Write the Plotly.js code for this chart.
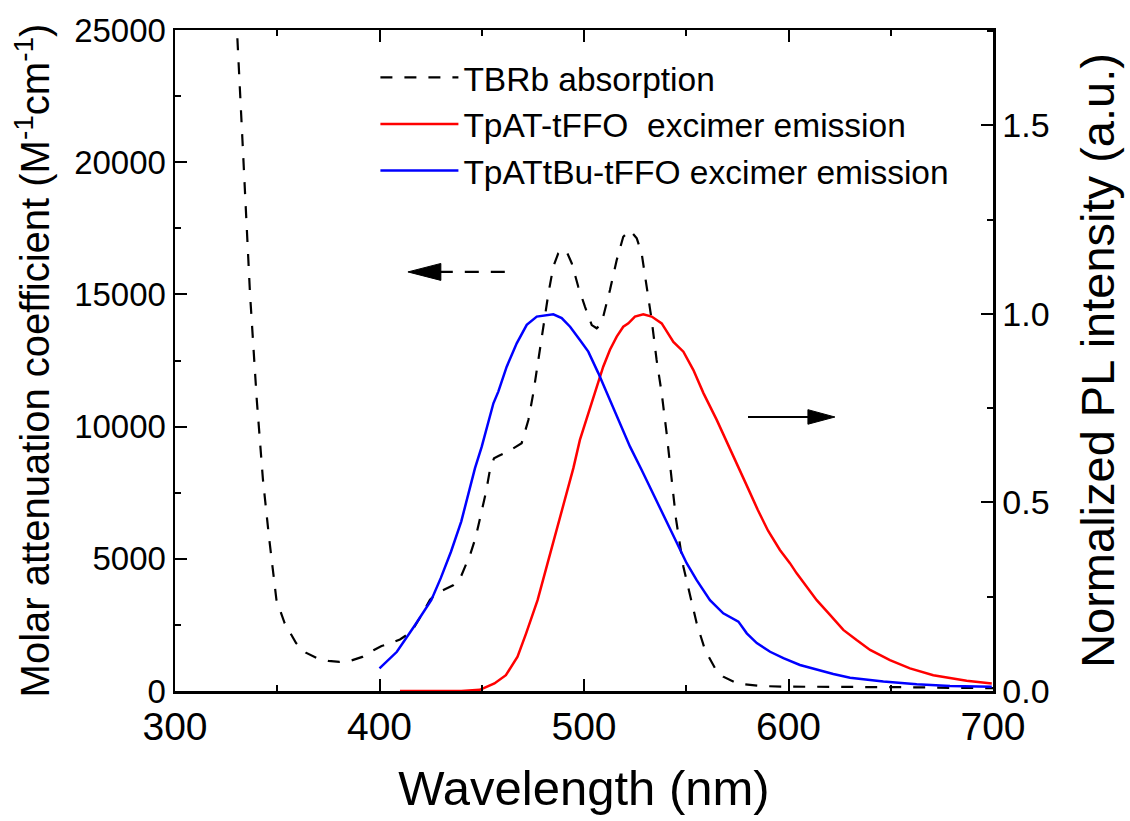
<!DOCTYPE html>
<html>
<head>
<meta charset="utf-8">
<script src="https://cdn.plot.ly/plotly-3.0.1.min.js"></script>
<style>html,body{margin:0;padding:0;background:#fff;}#chart{width:1130px;height:821px;}</style>
</head>
<body>
<div id="chart"></div>
<script>
// TBRb absorption (left axis, M^-1 cm^-1)
const absWl = [329.5,330.3,333,336.7,340,343,346,349.6,353.6,359.2,364,369.2,375,380.4,386,391.6,397.3,401,405.7,410,415.5,420,424.7,428,432,436,439.4,442,444.3,447,449.1,452,454,456,458.4,463.8,469.5,472.8,475.2,477.7,480.1,482.6,485,487.4,489.5,491.5,494,497.2,500.5,503.8,506.2,508,509.4,512.7,516,519.2,522.5,525.8,528.2,530.7,533.1,535.5,538,540.4,542.1,545,548.6,551.8,555.1,559.2,564.1,568.1,574.7,586.1,597.5,613.8,630.1,646.2,662.7,680,700];
const absVal = [26500,25000,20800,15000,11000,8000,5800,3450,2570,1815,1450,1250,1140,1100,1150,1290,1550,1700,1815,1950,2230,2800,3450,3700,3850,4000,4250,4700,5150,5800,6470,7500,8360,8800,8900,9100,9370,10250,11260,12520,13650,15040,16050,16550,16700,16620,16180,15290,14530,13840,13720,13850,14160,15170,16300,17180,17430,17120,16550,15290,14030,12520,11260,9750,8480,6500,4700,3700,2560,1550,860,540,290,190,165,160,160,140,140,120,110];

// TpAT-tFFO excimer emission (right axis, normalized)
const redWl = [410,420,430,440,449,456.2,461.8,467.5,471.7,474.5,477.3,482,487,491,494.8,498,502.1,506.2,509.4,512.7,516,519.2,521.7,524.9,529,533.1,538,543.7,548.6,553.5,558.4,564.9,570,575,580,585,590,595.8,600.7,604,608.9,613.8,620.3,626.8,633.3,639.9,649.6,659.4,670.8,687.1,699.4];
const redVal = [0,0,0,0,0.003,0.02,0.042,0.091,0.153,0.197,0.241,0.335,0.435,0.515,0.591,0.666,0.737,0.807,0.86,0.905,0.94,0.966,0.975,0.993,0.999,0.993,0.975,0.926,0.9,0.851,0.79,0.719,0.66,0.6,0.54,0.48,0.425,0.374,0.339,0.312,0.277,0.241,0.202,0.162,0.135,0.109,0.082,0.06,0.042,0.027,0.02];

// TpATtBu-tFFO excimer emission (right axis, normalized)
const blueWl = [400,408.5,416.9,425.3,430,435,440,443,446.7,450,453.2,455.7,458.1,462.2,467.1,472,476.9,481.8,485,489.1,493.2,498,502.1,507,511.9,516.8,522.5,528.2,533,538,542,546.9,550.2,555.1,561.6,568.1,572.2,575.5,579.6,584.5,591,597.5,605.6,613.8,621.9,630.1,646.4,662.7,679,699.4];
const blueVal = [0.06,0.104,0.171,0.241,0.3,0.37,0.45,0.51,0.591,0.648,0.71,0.763,0.794,0.86,0.922,0.971,0.993,0.997,0.999,0.989,0.966,0.931,0.9,0.843,0.781,0.719,0.648,0.586,0.532,0.475,0.43,0.374,0.339,0.294,0.241,0.206,0.193,0.184,0.153,0.127,0.104,0.087,0.069,0.056,0.045,0.035,0.025,0.018,0.013,0.011];

const names = ["TBRb absorption", "TpAT-tFFO\u00a0 excimer emission", "TpATtBu-tFFO excimer emission"];

const FONT = "Liberation Sans, Arial, sans-serif";

const traces = [
  {x: absWl, y: absVal, name: names[0], type: "scatter", mode: "lines", yaxis: "y",
   line: {color: "#000000", width: 2.2, dash: "12px,12px"}},
  {x: redWl, y: redVal, name: names[1], type: "scatter", mode: "lines", yaxis: "y2",
   line: {color: "#ff0000", width: 2.5}},
  {x: blueWl, y: blueVal, name: names[2], type: "scatter", mode: "lines", yaxis: "y2",
   line: {color: "#0000ff", width: 2.5}}
];

const layout = {
  width: 1130, height: 821,
  margin: {l: 175, r: 137, t: 30, b: 130},
  paper_bgcolor: "#ffffff", plot_bgcolor: "#ffffff",
  font: {family: FONT, color: "#000000"},
  showlegend: true,
  legend: {x: 0.245, y: 0.971, xanchor: "left", yanchor: "top",
           font: {family: FONT, size: 33.5, color: "#000"}, bgcolor: "rgba(0,0,0,0)",
           itemwidth: 78, tracegroupgap: 0},
  xaxis: {range: [300, 700], dtick: 100, tick0: 300, showgrid: false, zeroline: false,
          showline: true, linecolor: "#000", linewidth: 2.5, mirror: "ticks",
          ticks: "inside", ticklen: 12, tickwidth: 2, tickcolor: "#000",
          tickfont: {family: FONT, size: 39},
          minor: {dtick: 50, ticks: "inside", ticklen: 6, tickwidth: 2, tickcolor: "#000", showgrid: false},
          title: {text: "Wavelength (nm)", font: {family: FONT, size: 49}, standoff: 24}},
  yaxis: {range: [0, 25000], dtick: 5000, tickformat: "d", showgrid: false, zeroline: false,
          showline: true, linecolor: "#000", linewidth: 2.5,
          ticks: "inside", ticklen: 12, tickwidth: 2, tickcolor: "#000",
          tickfont: {family: FONT, size: 33},
          minor: {dtick: 2500, ticks: "inside", ticklen: 6, tickwidth: 2, tickcolor: "#000", showgrid: false},
          title: {text: "Molar attenuation coefficient (M<sup>-1</sup>cm<sup>-1</sup>)", font: {family: FONT, size: 40}, standoff: 12}},
  yaxis2: {range: [0, 1.753], dtick: 0.5, tickformat: ".1f", overlaying: "y", side: "right",
          showgrid: false, zeroline: false,
          showline: true, linecolor: "#000", linewidth: 2.5,
          ticks: "inside", ticklen: 12, tickwidth: 2, tickcolor: "#000",
          tickfont: {family: FONT, size: 34},
          minor: {dtick: 0.25, ticks: "inside", ticklen: 6, tickwidth: 2, tickcolor: "#000", showgrid: false},
          title: {text: "Normalized PL intensity (a.u.)", font: {family: FONT, size: 47}, standoff: 33}},
  shapes: [
    // left-pointing dashed arrow (absorption -> left axis)
    {type: "line", xref: "x", yref: "y", x0: 429, y0: 15850, x1: 464, y1: 15850,
     line: {color: "#000", width: 2.2, dash: "14px,12px"}},
    {type: "path", xref: "x", yref: "y", path: "M 413.9 15850 L 430 16170 L 430 15530 Z",
     fillcolor: "#000", line: {color: "#000", width: 1}},
    // right-pointing solid arrow (emission -> right axis)
    {type: "line", xref: "x", yref: "y", x0: 580.2, y0: 10363, x1: 610, y1: 10363,
     line: {color: "#000", width: 2.2}},
    {type: "path", xref: "x", yref: "y", path: "M 622.7 10363 L 609.5 10640 L 609.5 10090 Z",
     fillcolor: "#000", line: {color: "#000", width: 1}}
  ]
};

Plotly.newPlot("chart", traces, layout, {displayModeBar: false, staticPlot: true});
</script>
</body>
</html>
